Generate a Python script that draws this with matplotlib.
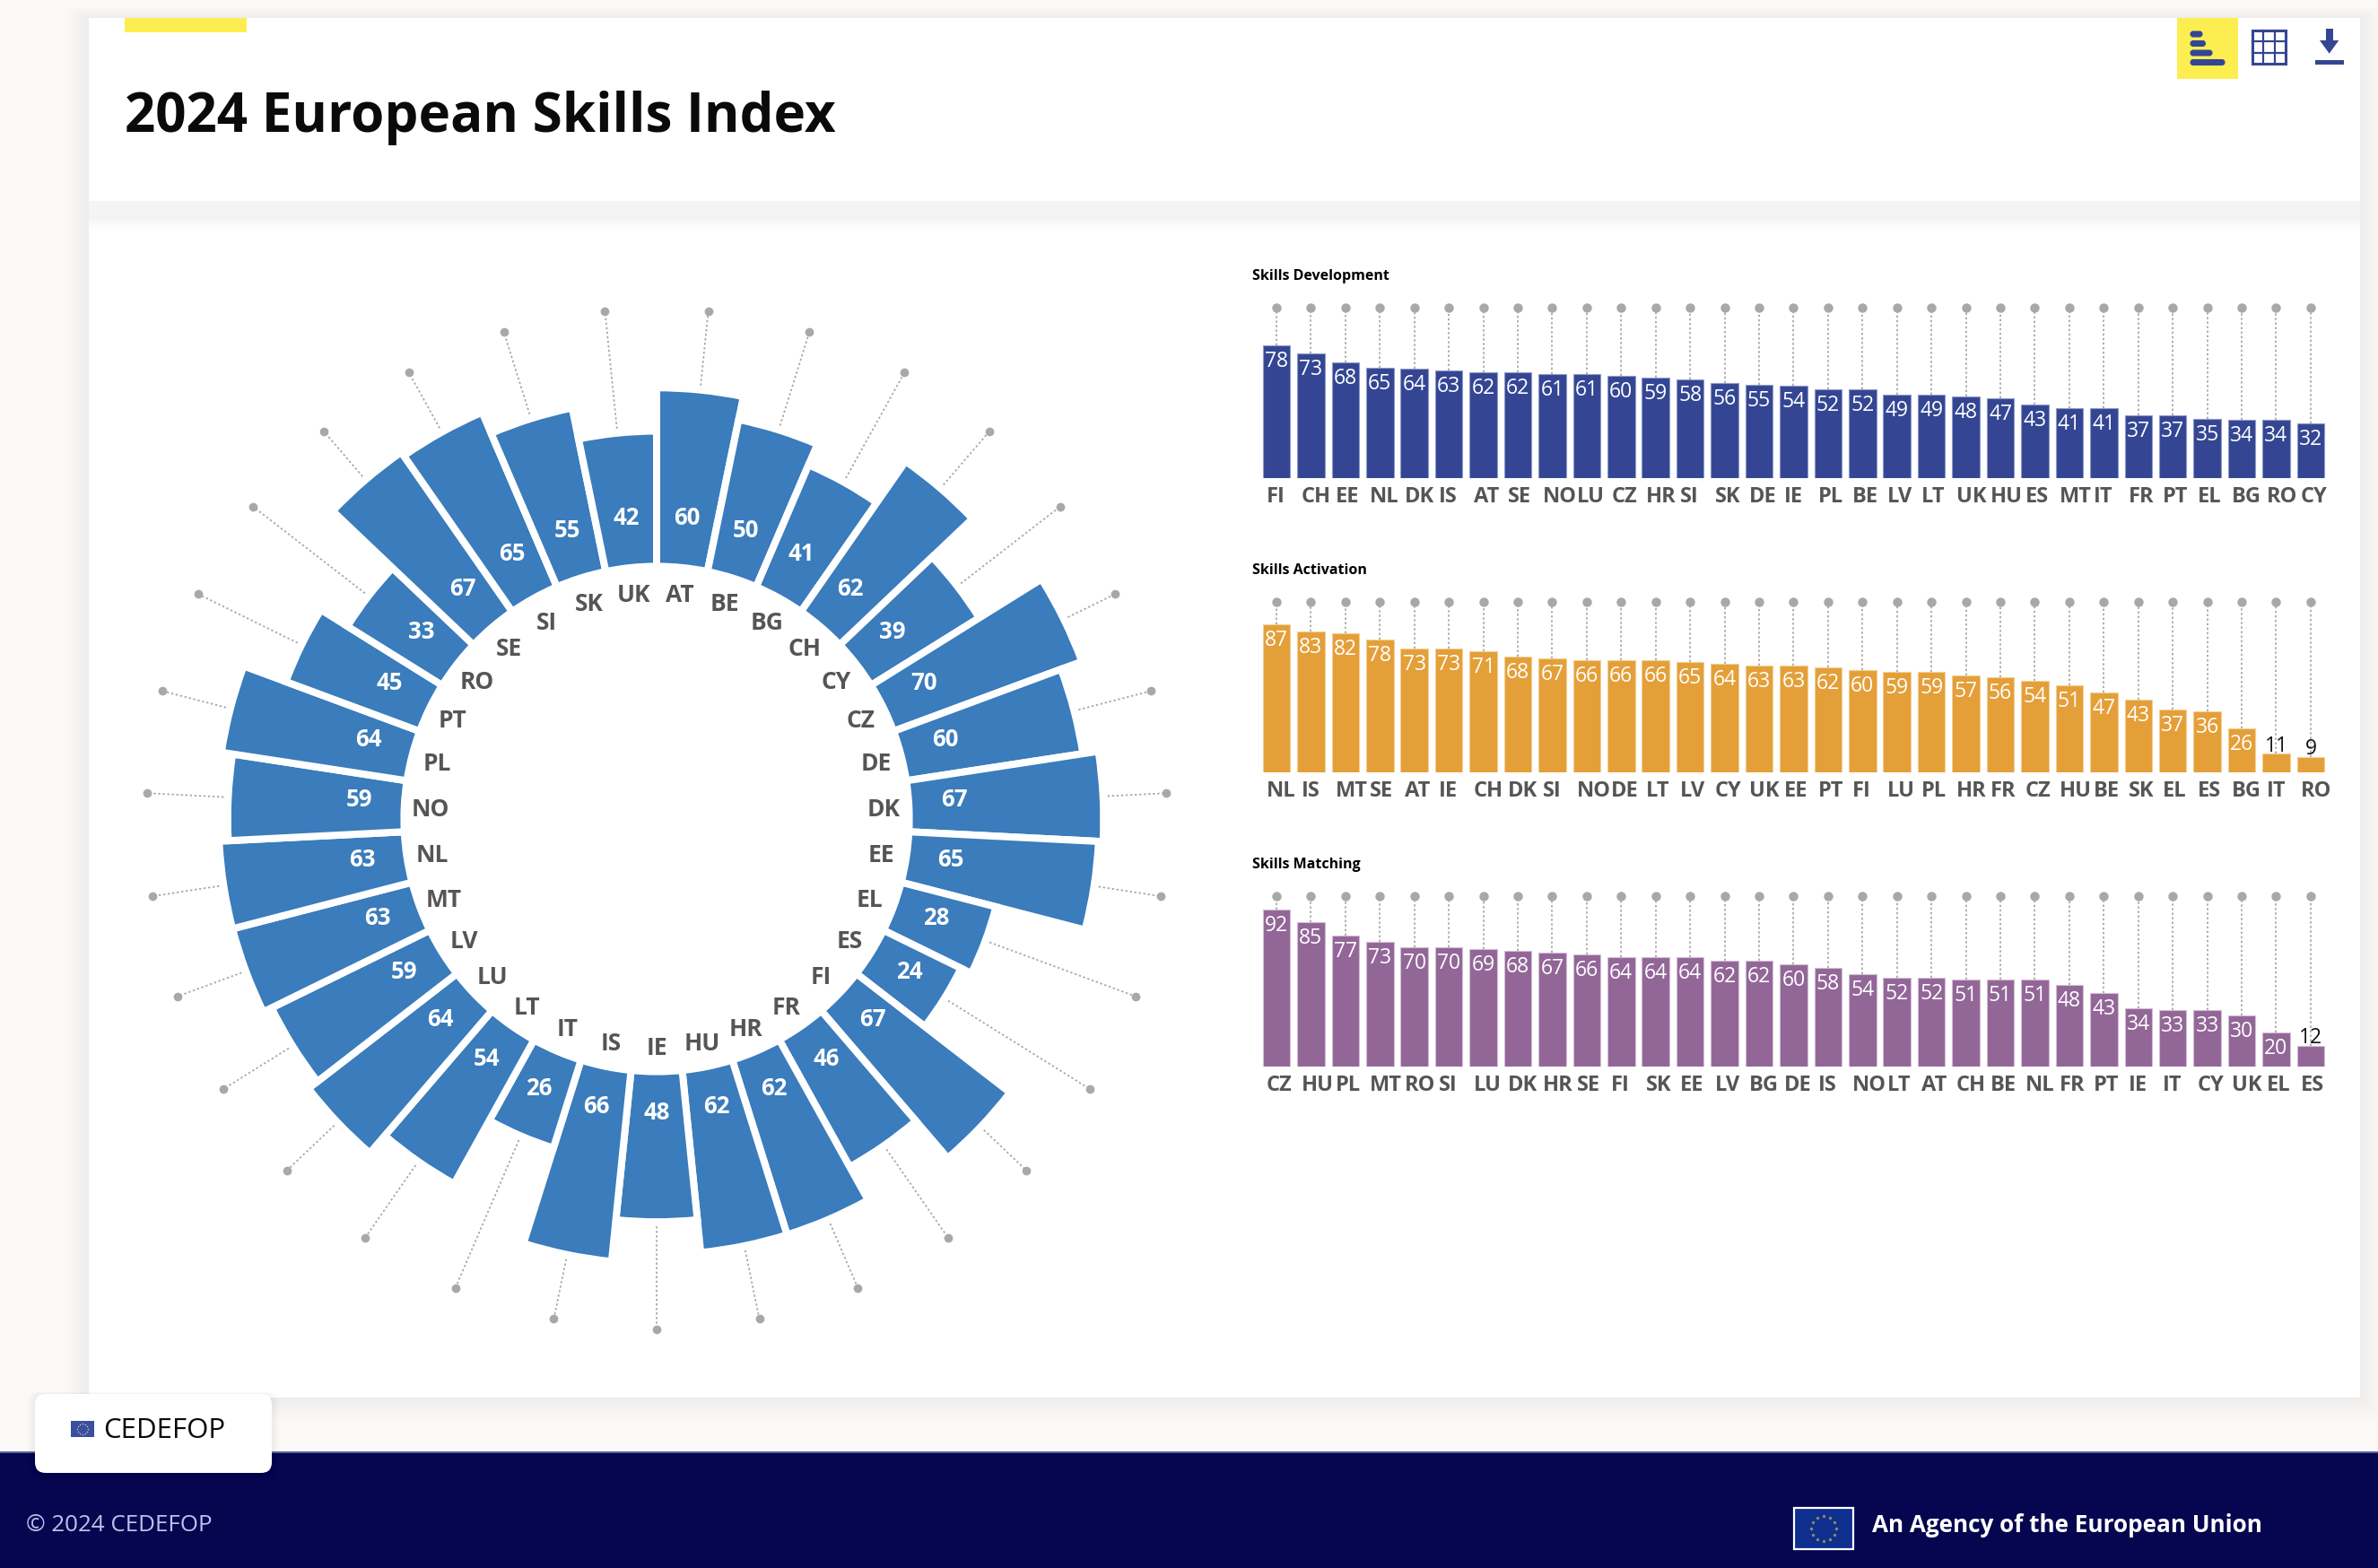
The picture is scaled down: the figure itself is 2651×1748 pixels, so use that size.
import numpy as np
import matplotlib
matplotlib.use("Agg")
import matplotlib.pyplot as plt
from matplotlib.patches import Rectangle, FancyBboxPatch, Polygon
from matplotlib.transforms import ScaledTranslation

plt.rcParams['font.family'] = ['Open Sans', 'DejaVu Sans']

W, H = 2651, 1749
DPI = 100

# ---------------- data ----------------
index_countries = ['AT','BE','BG','CH','CY','CZ','DE','DK','EE','EL','ES','FI','FR','HR','HU','IE',
                   'IS','IT','LT','LU','LV','MT','NL','NO','PL','PT','RO','SE','SI','SK','UK']
index_values = [60,50,41,62,39,70,60,67,65,28,24,67,46,62,62,48,
                66,26,54,64,59,63,63,59,64,45,33,67,65,55,42]

dev_countries = ['FI','CH','EE','NL','DK','IS','AT','SE','NO','LU','CZ','HR','SI','SK','DE','IE',
                 'PL','BE','LV','LT','UK','HU','ES','MT','IT','FR','PT','EL','BG','RO','CY']
dev_values = [78,73,68,65,64,63,62,62,61,61,60,59,58,56,55,54,
              52,52,49,49,48,47,43,41,41,37,37,35,34,34,32]

act_countries = ['NL','IS','MT','SE','AT','IE','CH','DK','SI','NO','DE','LT','LV','CY','UK','EE',
                 'PT','FI','LU','PL','HR','FR','CZ','HU','BE','SK','EL','ES','BG','IT','RO']
act_values = [87,83,82,78,73,73,71,68,67,66,66,66,65,64,63,63,
              62,60,59,59,57,56,54,51,47,43,37,36,26,11,9]

mat_countries = ['CZ','HU','PL','MT','RO','SI','LU','DK','HR','SE','FI','SK','EE','LV','BG','DE',
                 'IS','NO','LT','AT','CH','BE','NL','FR','PT','IE','IT','CY','UK','EL','ES']
mat_values = [92,85,77,73,70,70,69,68,67,66,64,64,64,62,62,60,
              58,54,52,52,51,51,51,48,43,34,33,33,30,20,12]

title = '2024 European Skills Index'

BLUE = '#3a7cbc'
NAVY = '#344693'
ORANGE = '#e49f39'
PURPLE = '#926797'
GREY = '#a8a8a8'
TEXTGREY = '#555555'

fig = plt.figure(figsize=(W / DPI, H / DPI), dpi=DPI, facecolor='#faf9f7')

def px_axes(x0, y0, x1, y1, **kw):
    return fig.add_axes([x0 / W, 1 - y1 / H, (x1 - x0) / W, (y1 - y0) / H], **kw)

# ---------------- page furniture ----------------
bg = px_axes(0, 0, W, H)
bg.set_xlim(0, W); bg.set_ylim(H, 0); bg.axis('off')

def rect(x0, y0, x1, y1, color, z=1, alpha=None):
    bg.add_patch(Rectangle((x0, y0), x1 - x0, y1 - y0, facecolor=color, edgecolor='none', zorder=z, alpha=alpha))

def shadow(x0, y0, x1, y1, blur, a):
    for k in range(blur, 0, -2):
        rect(x0 - k, y0 - k * 0.5, x1 + k, y1 + k, '#000000', z=0.5, alpha=a)

shadow(99, 21, 2631, 1559, 24, 0.0045)
rect(99, 21, 2631, 225, 'white', z=1)
rect(99, 225, 2631, 241, '#f4f4f4', z=1)
rect(99, 241, 2631, 1559, 'white', z=1)
for k in range(22):
    rect(99, 241 + k, 2631, 242 + k, '#000000', z=1.1, alpha=0.055 * (1 - k / 22) ** 1.6)
rect(139, 21, 275, 37, '#fcee50', z=2)

bg.text(139, 131, title, fontsize=43.3, fontweight='bold', color='#0a0a0a', va='center', ha='left', zorder=3)

# icons
rect(2427, 21, 2495, 89, '#fcee50', z=2)
for yy, xe in zip([36, 46.5, 57, 67.5], [2456, 2459.5, 2467, 2481]):
    bg.add_patch(FancyBboxPatch((2443, yy + 1), xe - 2445, 4, boxstyle='round,pad=0,rounding_size=2',
                                facecolor=NAVY, edgecolor=NAVY, lw=2.2, zorder=3))
bg.add_patch(Rectangle((2510.5, 34.5), 37.5, 37.5, facecolor='white', edgecolor=NAVY, lw=2.2, zorder=3))
for t in (1, 2):
    bg.plot([2510.5 + 12.5 * t] * 2, [34.5, 72], color=NAVY, lw=1.6, zorder=3)
    bg.plot([2510.5, 2548], [34.5 + 12.5 * t] * 2, color=NAVY, lw=1.6, zorder=3)
rect(2592.7, 33, 2600.7, 50, NAVY, z=3)
bg.add_patch(Polygon([(2586, 46), (2607.3, 46), (2596.7, 60.7)], closed=True, facecolor=NAVY, edgecolor='none', zorder=3))
rect(2580.7, 68, 2613.3, 73, NAVY, z=3)

# footer
rect(0, 1619, W, 1621, '#5a6296', z=1)
rect(0, 1621, W, H, '#05064f', z=1)
bg.text(29, 1701, '\u00a9 2024 CEDEFOP', fontsize=18.7, color='#b9c3ec', va='center', ha='left', zorder=3)
bg.text(2087, 1701, 'An Agency of the European Union', fontsize=18.8, fontweight='bold', color='white',
        va='center', ha='left', zorder=3)
bg.add_patch(Rectangle((2000, 1682), 66, 46, facecolor='#0f2f8f', edgecolor='white', lw=1.6, zorder=3))
star_angles = np.arange(12) * 2 * np.pi / 12
bg.scatter(2033 + 14 * np.cos(star_angles), 1705 + 14 * np.sin(star_angles), s=6, color='#8a8a68', zorder=4, linewidths=0)

# logo box
for k in range(8, 0, -2):
    bg.add_patch(FancyBboxPatch((39 - k, 1555 - k * 0.3), 264 + 2 * k, 88 + 1.3 * k, boxstyle='round,pad=0,rounding_size=12',
                                facecolor='black', edgecolor='none', alpha=0.012, zorder=4))
bg.add_patch(FancyBboxPatch((39, 1555), 264, 88, boxstyle='round,pad=0,rounding_size=12',
                            facecolor='white', edgecolor='none', zorder=5))
rect(79, 1585, 105, 1603, '#3a4f9f', z=6)
bg.scatter(92 + 6 * np.cos(star_angles), 1594 + 6 * np.sin(star_angles), s=1.2, color='#c8c8b0', zorder=7, linewidths=0)
bg.text(115, 1595, 'CEDEFOP', fontsize=22.5, color='#0a0a0a', va='center', ha='left', zorder=6)

# ---------------- radial chart ----------------
CX, CY = 732, 914
RMAX = 600
GAP_PT = 8 * 72 / DPI
R2_BASE, R2_SLOPE = 84060.0, 2451.0     # radius^2 is linear in value (area-true sectors)
R_INNER = 281.6
R_TIP = 569

def radius(v):
    return np.sqrt(R2_BASE + R2_SLOPE * np.asarray(v, dtype=float))

polar = px_axes(CX - RMAX, CY - RMAX, CX + RMAX, CY + RMAX, projection='polar')
polar.patch.set_alpha(0)
polar.set_theta_zero_location('N')
polar.set_theta_direction(-1)
polar.set_ylim(0, RMAX)
polar.grid(False)
polar.set_xticks([]); polar.set_yticks([])
polar.spines['polar'].set_visible(False)

n = len(index_values)
step = 2 * np.pi / n
theta = (np.arange(n) + 0.5) * step
r_top = radius(index_values)

for th, r in zip(theta, r_top):
    polar.plot([th, th], [r, R_TIP], color=GREY, lw=1.3, ls=(0, (1.3, 1.5)), zorder=1)
polar.plot(theta, np.full(n, R_TIP), ls='none', marker='o', ms=7, color=GREY, mec='none', zorder=2, clip_on=False)
polar.bar(theta, r_top - R_INNER, width=step, bottom=R_INNER, color=BLUE, edgecolor='white', linewidth=GAP_PT, zorder=3)

for th, v, c in zip(theta, index_values, index_countries):
    polar.annotate(str(v), xy=(th, 332), xytext=(0, 4.3), textcoords='offset points', ha='center', va='center',
                   color='white', fontsize=18.5, fontweight='bold', zorder=5)
    polar.annotate(c, xy=(th, 253), xytext=(0, -1), textcoords='offset points', ha='center', va='center',
                   color=TEXTGREY, fontsize=19, fontweight='bold', zorder=5)

# ---------------- bar charts ----------------
BAR_X0 = 1423          # centre of first bar in px
BAR_STEP = 38.43
PX_PER_UNIT = 1.9

def small_chart(countries, values, color, name, base_y, dot_y, title_y, edge):
    x0 = BAR_X0 - BAR_STEP
    x1 = BAR_X0 + 31 * BAR_STEP
    ax = px_axes(x0, dot_y, x1, base_y)
    ax.patch.set_alpha(0)
    for s in ax.spines.values():
        s.set_visible(False)
    x = np.arange(len(values))
    ax.set_xlim(-1, len(values))
    ytop = (base_y - dot_y) / PX_PER_UNIT
    ax.set_ylim(0, ytop)
    ax.set_yticks([])
    tr = ax.get_xaxis_transform()
    for xi, v in zip(x, values):
        ax.plot([xi, xi], [v, ytop], color=GREY, lw=1.3, ls=(0, (1.3, 1.5)), zorder=1)
    ax.plot(x, np.ones(len(x)), ls='none', marker='o', ms=7.5, color=GREY, mec='none', transform=tr, clip_on=False, zorder=2)
    ax.bar(x, values, width=30.5 / BAR_STEP, color=color, edgecolor=edge, linewidth=0.8, zorder=3)
    ax.set_xticks(x, countries, fontsize=17, fontweight='bold', color=TEXTGREY)
    ax.tick_params(axis='x', length=0, pad=5.5)
    off = ScaledTranslation(-11 / DPI, 0, fig.dpi_scale_trans)
    for lab in ax.get_xticklabels():
        lab.set_ha('left')
        lab.set_transform(lab.get_transform() + off)
    for xi, v in zip(x, values):
        if v >= 15:
            ax.annotate(str(v), xy=(xi, v), xytext=(0, -12.3), textcoords='offset points', ha='center', va='center',
                        color='white', fontsize=16.5, zorder=4)
        else:
            ax.annotate(str(v), xy=(xi, v), xytext=(0, 7), textcoords='offset points', ha='center', va='center',
                        color='#111111', fontsize=16.5, zorder=4)
    bg.text(1396, title_y, name, fontsize=11.5, fontweight='bold', color='black', va='center', ha='left', zorder=3)

small_chart(dev_countries, dev_values, NAVY, 'Skills Development', 534, 344, 308, '#8f9ac8')
small_chart(act_countries, act_values, ORANGE, 'Skills Activation', 862.3, 672.3, 635.7, '#f3cf94')
small_chart(mat_countries, mat_values, PURPLE, 'Skills Matching', 1190, 1000.3, 964, '#d3bcd6')

fig.savefig('out.png', dpi=DPI, facecolor=fig.get_facecolor())
